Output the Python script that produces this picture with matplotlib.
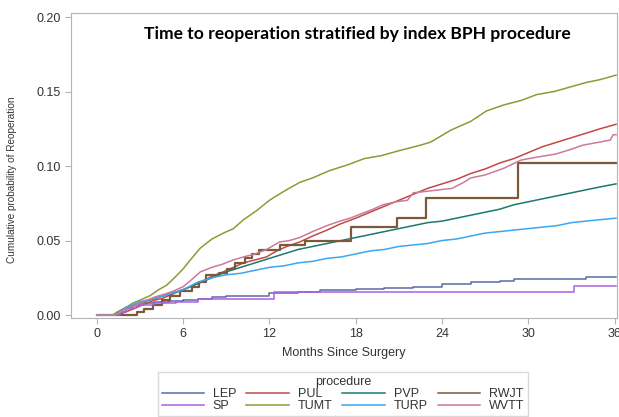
import matplotlib.pyplot as plt
from matplotlib.lines import Line2D

# Months since surgery / cumulative probability of reoperation
lep_t = [0, 1.2, 1.5, 2.0, 2.5, 3.0, 4.0, 5.0, 6.0, 7.0, 8.0, 9.0, 10.0, 12.0, 13.0, 14.0, 15.5,
         17.0, 18.0, 20.0, 22.0, 24.0, 26.0, 28.0, 29.0, 33.0, 34.0, 36.1]
lep_p = [0, 0, 0.002, 0.005, 0.0067, 0.008, 0.009, 0.0095, 0.010, 0.011, 0.012, 0.0125, 0.013,
         0.0145, 0.015, 0.0155, 0.0165, 0.017, 0.0172, 0.018, 0.019, 0.0208, 0.022, 0.023, 0.024,
         0.0245, 0.0257, 0.0257]

pul_t = [0, 1.4, 2.0, 2.5, 3.0, 3.5, 4.0, 4.5, 5.0, 5.5, 6.0, 6.5, 7.2, 8.0, 8.8, 9.5, 10.2, 11.0,
         11.8, 12.5, 13.2, 14.1, 15.0, 16.0, 16.9, 18.0, 19.0, 20.0, 21.0, 22.0, 23.0, 24.0, 25.0,
         26.0, 27.0, 28.0, 29.0, 30.0, 31.0, 32.0, 33.0, 34.0, 35.0, 36.1]
pul_p = [0, 0, 0.002, 0.004, 0.006, 0.008, 0.010, 0.011, 0.013, 0.015, 0.017, 0.019, 0.022, 0.026,
         0.029, 0.032, 0.035, 0.037, 0.039, 0.043, 0.046, 0.049, 0.053, 0.057, 0.061, 0.065, 0.069,
         0.073, 0.077, 0.081, 0.085, 0.088, 0.091, 0.095, 0.098, 0.102, 0.105, 0.109, 0.113, 0.116,
         0.119, 0.122, 0.125, 0.128]

pvp_t = [0, 1.2, 2, 3, 4, 5, 6, 7, 8, 9, 10, 11, 12, 13, 14, 15, 16, 17, 18, 19, 20, 21, 22, 23, 24,
         25, 26, 27, 28, 29, 30, 31, 32, 33, 34, 35, 36.1]
pvp_p = [0, 0, 0.005, 0.008, 0.011, 0.014, 0.017, 0.021, 0.025, 0.029, 0.032, 0.035, 0.038, 0.041,
         0.044, 0.046, 0.048, 0.050, 0.052, 0.054, 0.056, 0.058, 0.060, 0.062, 0.063, 0.065, 0.067,
         0.069, 0.071, 0.074, 0.076, 0.078, 0.080, 0.082, 0.084, 0.086, 0.088]

rwjt_t = [0, 2.8, 3.3, 3.9, 4.5, 5.1, 5.8, 6.6, 7.1, 7.6, 8.5, 9.05, 9.6, 10.3, 10.8, 11.3, 12.7,
          14.5, 17.7, 20.9, 22.9, 29.3, 36.1]
rwjt_p = [0, 0.002, 0.004, 0.007, 0.010, 0.013, 0.016, 0.019, 0.022, 0.027, 0.028, 0.031, 0.035,
          0.038, 0.041, 0.0436, 0.047, 0.0497, 0.0589, 0.0653, 0.0787, 0.1018, 0.1018]

sp_t = [0, 1.2, 1.6, 2.0, 2.5, 3.0, 4.0, 5.5, 7.0, 12.3, 33.2, 36.1]
sp_p = [0, 0, 0.002, 0.004, 0.006, 0.007, 0.008, 0.009, 0.0105, 0.0155, 0.0197, 0.0197]

tumt_t = [0, 1.1, 1.4, 2.0, 2.5, 3.0, 3.7, 4.3, 4.85, 5.5, 6.0, 6.5, 7.2, 8.0, 8.8, 9.5, 10.2, 11.1,
          12.0, 13.0, 14.1, 15.0, 16.2, 17.5, 18.6, 19.8, 20.9, 21.7, 22.5, 23.2, 23.9, 24.6, 25.3,
          26.0, 27.1, 28.3, 29.5, 30.6, 31.8, 32.9, 34.0, 35.0, 36.1]
tumt_p = [0, 0, 0.002, 0.005, 0.008, 0.010, 0.013, 0.017, 0.020, 0.026, 0.031, 0.037, 0.045, 0.051,
          0.055, 0.058, 0.064, 0.070, 0.077, 0.083, 0.089, 0.092, 0.097, 0.101, 0.105, 0.107, 0.110,
          0.112, 0.114, 0.116, 0.120, 0.124, 0.127, 0.130, 0.137, 0.141, 0.144, 0.148, 0.150, 0.153,
          0.156, 0.158, 0.161]

turp_t = [0, 1.3, 2, 3, 4, 5, 6, 7, 8, 9, 10, 11, 12, 13, 14, 15, 16, 17, 18, 19, 20, 21, 22, 23,
          24, 25, 26, 27, 28, 29, 30, 31, 32, 33, 34, 35, 36.1]
turp_p = [0, 0, 0.005, 0.009, 0.011, 0.014, 0.017, 0.022, 0.025, 0.027, 0.028, 0.030, 0.032, 0.033,
          0.035, 0.036, 0.038, 0.039, 0.041, 0.043, 0.044, 0.046, 0.047, 0.048, 0.050, 0.051, 0.053,
          0.055, 0.056, 0.057, 0.058, 0.059, 0.060, 0.062, 0.063, 0.064, 0.065]

wvtt_t = [0, 1.3, 1.8, 2.5, 3.0, 3.5, 4.0, 4.7, 5.3, 6.0, 6.5, 7.2, 8.0, 8.7, 9.5, 10.2, 11.0, 11.8,
          12.7, 13.4, 14.1, 15.0, 16.0, 16.9, 17.6, 18.4, 19.2, 19.9, 20.8, 21.6, 22.0, 24.7, 25.5,
          26.0, 27.0, 28.3, 29.5, 30.6, 31.9, 32.9, 33.8, 35.7, 35.9, 36.1]
wvtt_p = [0, 0, 0.003, 0.006, 0.008, 0.010, 0.012, 0.014, 0.016, 0.019, 0.023, 0.029, 0.032, 0.034,
          0.037, 0.039, 0.041, 0.044, 0.049, 0.050, 0.052, 0.056, 0.060, 0.063, 0.065, 0.068, 0.071,
          0.074, 0.076, 0.077, 0.082, 0.085, 0.089, 0.092, 0.094, 0.0985, 0.104, 0.106, 0.108, 0.111,
          0.114, 0.1174, 0.121, 0.121]

names = ["LEP", "PUL", "PVP", "RWJT", "SP", "TUMT", "TURP", "WVTT"]
colors = ["#5a6aa8", "#c04a45", "#1a7a6e", "#7a5a3a", "#a860e0", "#8f9a35", "#3aa8f0", "#cc7a9a"]
times = [lep_t, pul_t, pvp_t, rwjt_t, sp_t, tumt_t, turp_t, wvtt_t]
probs = [lep_p, pul_p, pvp_p, rwjt_p, sp_p, tumt_p, turp_p, wvtt_p]
# curves with visibly coarse steps; the rest have many tiny steps
stepped = ["LEP", "RWJT", "SP"]

plt.rcParams['font.family'] = ['Liberation Sans', 'DejaVu Sans']

fig = plt.figure(figsize=(6.19, 4.17), dpi=100)
ax = fig.add_axes([71 / 619, 1 - 318 / 417, 546 / 619, 305 / 417])

for t, p, c, n in zip(times, probs, colors, names):
    lw = 1.6 if n == "RWJT" else 1.1
    ds = 'steps-post' if n in stepped else 'default'
    ax.plot(t, p, drawstyle=ds, color=c, lw=lw, label=n)

ax.set_xlim(-1.8, 36.17)
ax.set_ylim(-0.002, 0.2027)
ax.set_xticks([0, 6, 12, 18, 24, 30, 36])
ax.set_yticks([0.0, 0.05, 0.10, 0.15, 0.20])
ax.set_yticklabels(["0.00", "0.05", "0.10", "0.15", "0.20"])
for s in ax.spines.values():
    s.set_color("#b4b4b4")
ax.tick_params(direction='out', length=4, color="#b4b4b4", labelcolor="#333333", labelsize=9)

ax.set_xlabel("Months Since Surgery", fontsize=9, color="#333333", labelpad=5)
fig.text(12 / 619, 1 - 180 / 417, "Cumulative probability of Reoperation", rotation=90,
         ha='center', va='center', fontsize=7.2, color="#333333")

ax.text(0.525, 0.93, "Time to reoperation stratified by index BPH procedure", transform=ax.transAxes,
        ha='center', va='center', fontsize=12.6, fontweight='bold', family='Lato')

# legend filled column-wise so LEP/SP share the first column
order = [0, 4, 1, 5, 2, 6, 3, 7]
handles = [Line2D([], [], color=colors[i], lw=1.1) for i in order]
labels = [names[i] for i in order]
leg = fig.legend(handles, labels, title="procedure", ncol=4, loc='upper center',
                 bbox_to_anchor=(343 / 619, 1 - 366 / 417), fontsize=9, title_fontsize=9,
                 handlelength=3.4, handletextpad=0.7, columnspacing=0.8, labelspacing=0.0,
                 frameon=True, fancybox=False, borderpad=0.3)
leg.get_frame().set_edgecolor("#d0d0d0")
leg.get_frame().set_linewidth(1.0)
plt.setp(leg.get_texts(), color="#333333")
leg.get_title().set_color("#333333")

fig.savefig("out.png", dpi=100)
